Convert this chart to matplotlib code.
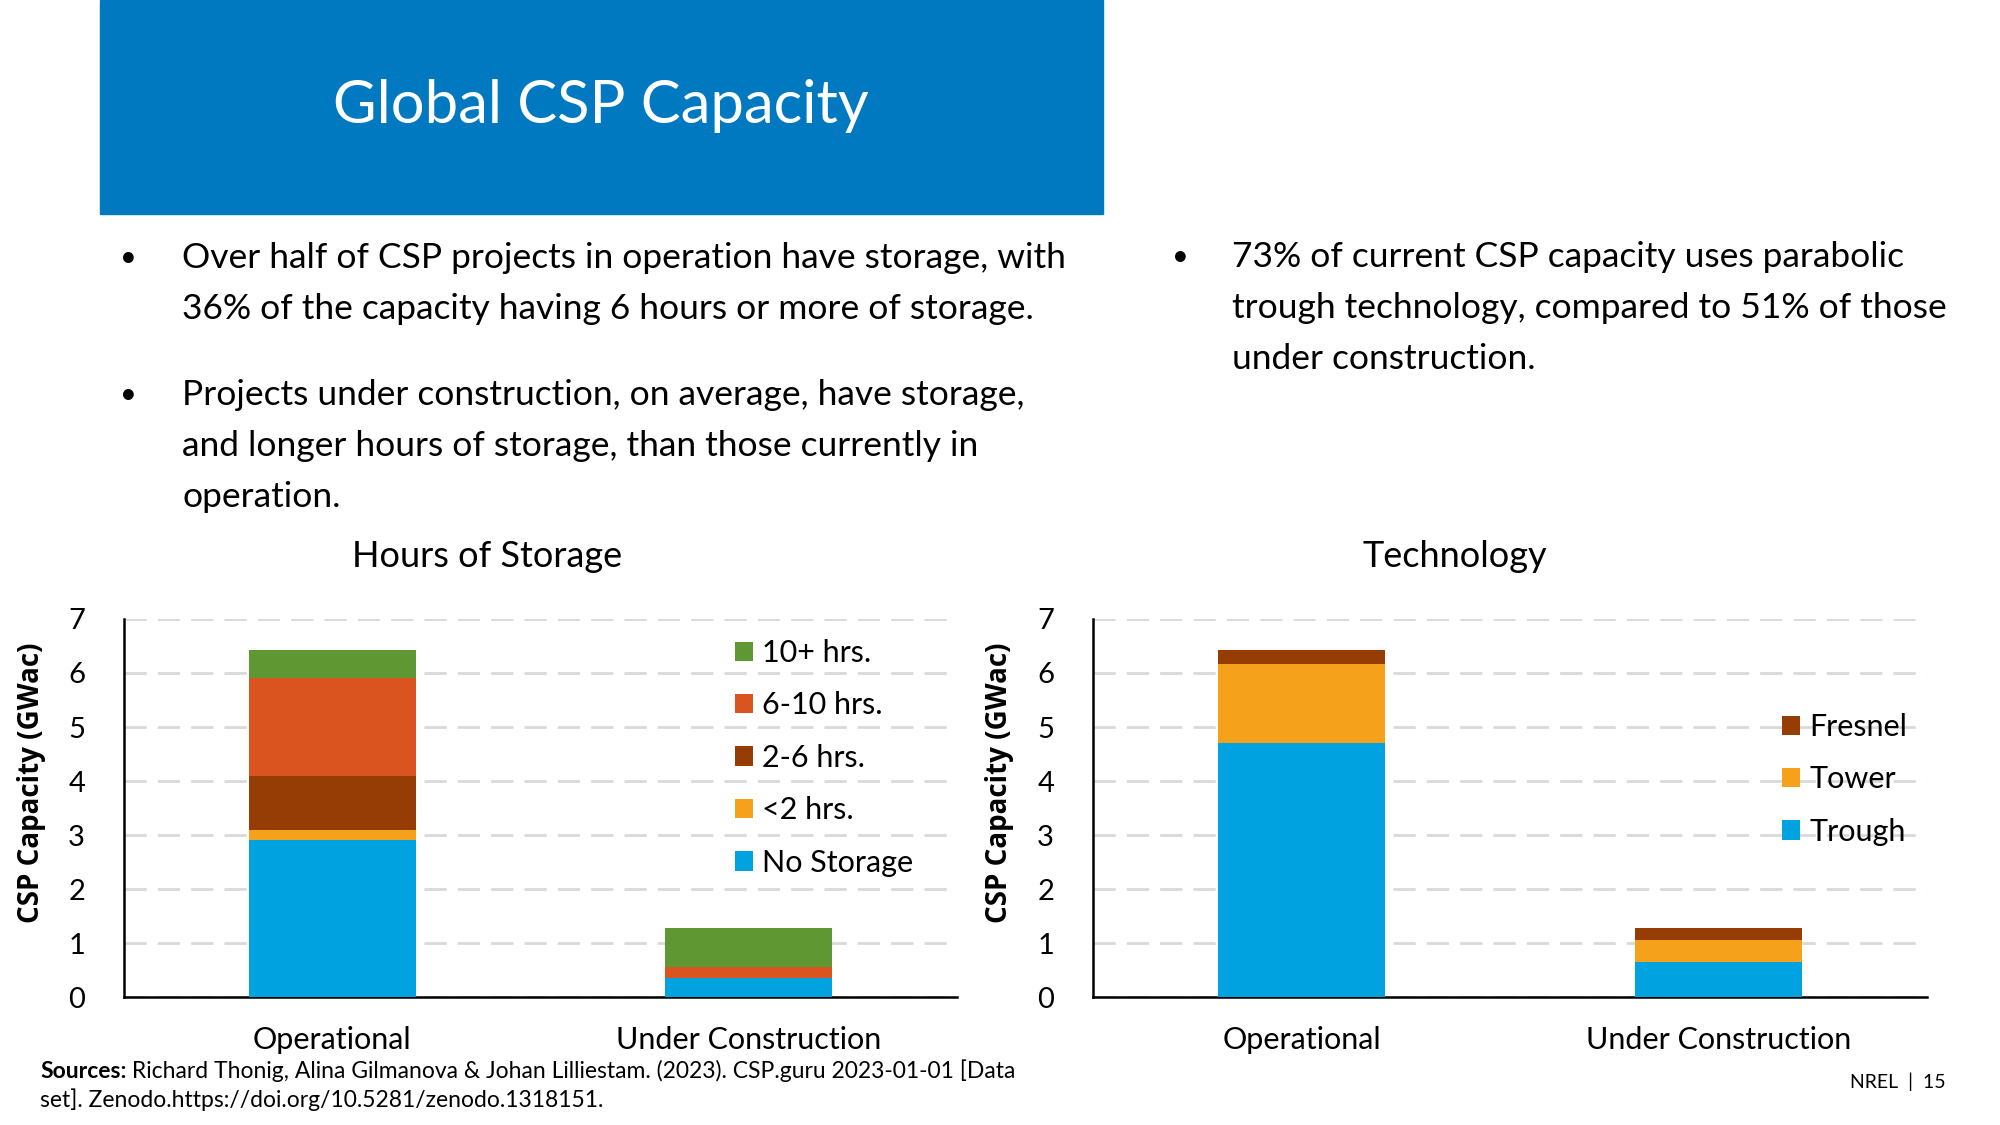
import matplotlib
matplotlib.use("Agg")
import matplotlib.pyplot as plt
from matplotlib.patches import Rectangle
import numpy as np

plt.rcParams['font.family'] = ['Lato', 'DejaVu Sans']

# ---------------- data ----------------
categories = ["Operational", "Under Construction"]

storage_labels = ["No Storage", "<2 hrs.", "2-6 hrs.", "6-10 hrs.", "10+ hrs."]
no_storage = [2.90, 0.35]
lt2_hrs = [0.20, 0.00]
h2_6 = [0.99, 0.00]
h6_10 = [1.81, 0.21]
h10_plus = [0.52, 0.71]
storage_series = [no_storage, lt2_hrs, h2_6, h6_10, h10_plus]
storage_colors = ["#00A3E0", "#F5A11C", "#963C05", "#D9541E", "#5F9733"]

tech_labels = ["Trough", "Tower", "Fresnel"]
trough = [4.70, 0.64]
tower = [1.46, 0.41]
fresnel = [0.26, 0.22]
tech_series = [trough, tower, fresnel]
tech_colors = ["#00A3E0", "#F5A11C", "#963C05"]

y_ticks = [0, 1, 2, 3, 4, 5, 6, 7]

title = "Global CSP Capacity"
bullets_left = [
    ["Over half of CSP projects in operation have storage, with",
     "36% of the capacity having 6 hours or more of storage."],
    ["Projects under construction, on average, have storage,",
     "and longer hours of storage, than those currently in",
     "operation."],
]
bullets_right = [
    ["73% of current CSP capacity uses parabolic",
     "trough technology, compared to 51% of those",
     "under construction."],
]

# ---------------- figure ----------------
W, H = 2000, 1125
fig = plt.figure(figsize=(20, 11.25), dpi=100)

def fx(px):
    return px / W

def fy(py):
    return 1 - py / H

# title box
fig.patches.append(Rectangle((fx(100), fy(214)), fx(1103) - fx(100), 1 - fy(214),
                             transform=fig.transFigure, color="#0079C1", zorder=0))
fig.text(fx(601), fy(106), title, color="white", fontsize=43, ha="center", va="center")

body_fs = 25.5
line_h = 51

def draw_bullets(x_bullet, x_text, y0, paras, gap):
    y = y0
    for para in paras:
        fig.text(fx(x_bullet), fy(y), "\u2022", fontsize=21, ha="left", va="center")
        for line in para:
            fig.text(fx(x_text), fy(y), line, fontsize=body_fs, ha="left", va="center")
            y += line_h
        y += gap

draw_bullets(120, 182, 258, bullets_left, 35)
draw_bullets(1172, 1232, 257, bullets_right, 35)

# ---------------- axes ----------------
def make_axes(x0, x1, series, labels, colors, ylabel_x, chart_title, title_x, legend_anchor):
    ax = fig.add_axes([fx(x0), fy(997), fx(x1) - fx(x0), fy(619) - fy(997)])
    x = np.arange(len(categories))
    bottom = np.zeros(len(categories))
    handles = []
    for vals, lab, col in zip(series, labels, colors):
        b = ax.bar(x, vals, 0.4, bottom=bottom, color=col, label=lab, zorder=3)
        handles.append(b)
        bottom += np.array(vals)
    ax.set_xlim(-0.5, 1.5)
    ax.set_ylim(0, 7)
    ax.set_yticks(y_ticks)
    ax.set_yticklabels([str(t) for t in y_ticks], fontsize=21)
    ax.set_xticks(x)
    ax.set_xticklabels(categories, fontsize=22)
    ax.tick_params(axis="both", length=0)
    ax.tick_params(axis="y", pad=28)
    ax.tick_params(axis="x", pad=21)
    for s in ["top", "right"]:
        ax.spines[s].set_visible(False)
    ax.spines["left"].set_linewidth(1.8)
    ax.spines["bottom"].set_linewidth(1.8)
    ax.yaxis.grid(True, color="#D9D9D9", linewidth=2, linestyle=(0, (8, 4)), zorder=0)
    ax.set_axisbelow(True)
    fig.text(fx(ylabel_x), fy(783), "CSP Capacity (GWac)", rotation=90, fontsize=20,
             fontweight="bold", family="Open Sans", ha="center", va="center")
    fig.text(fx(title_x), fy(557), chart_title, fontsize=26, ha="center", va="center")
    ax.legend(handles[::-1], labels[::-1], loc="upper left",
              bbox_to_anchor=legend_anchor, bbox_transform=fig.transFigure,
              frameon=False, fontsize=22, handlelength=0.6, handleheight=0.6,
              handletextpad=0.3, labelspacing=0.8, borderaxespad=0, borderpad=0)
    return ax

make_axes(124, 957, storage_series, storage_labels, storage_colors, 32,
          "Hours of Storage", 487, (fx(735), fy(639)))
make_axes(1093, 1927, tech_series, tech_labels, tech_colors, 1000,
          "Technology", 1455, (fx(1782), fy(713)))

# ---------------- footer ----------------
src_fs = 16.5
t = fig.text(fx(40), fy(1071), "Sources:", fontsize=src_fs, fontweight="bold",
             ha="left", va="center")
plt.annotate(" Richard Thonig, Alina Gilmanova & Johan Lilliestam. (2023). CSP.guru 2023-01-01 [Data",
             xy=(1, 0.5), xycoords=t, va="center", ha="left", fontsize=src_fs,
             annotation_clip=False)
fig.text(fx(40), fy(1100), "set]. Zenodo.https://doi.org/10.5281/zenodo.1318151.",
         fontsize=src_fs, ha="left", va="center")
fig.text(fx(1946), fy(1082), "NREL  |  15", fontsize=14, ha="right", va="center")

fig.savefig("out.png", dpi=100)
